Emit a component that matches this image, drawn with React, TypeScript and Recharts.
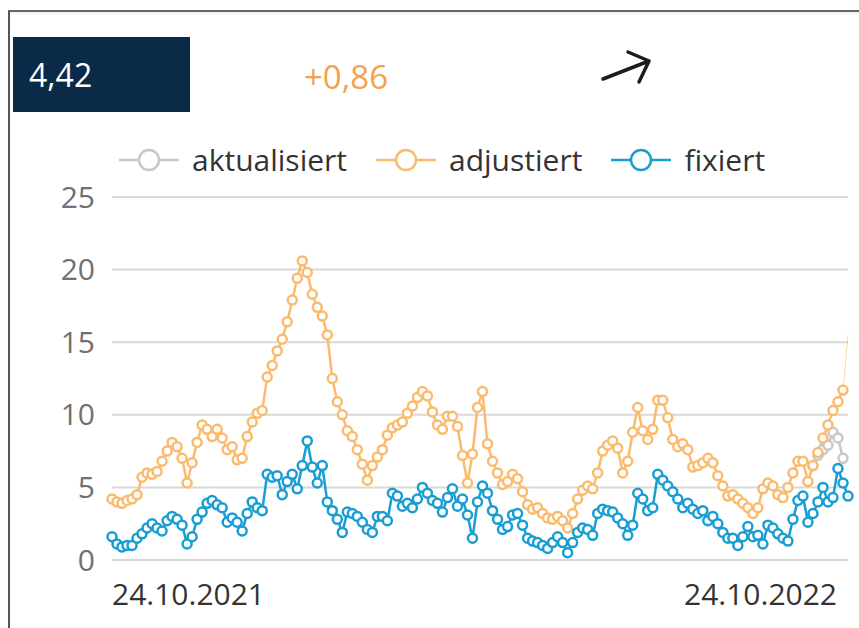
import React from 'react';
import { LineChart, Line, XAxis, YAxis, CartesianGrid } from 'recharts';

// values, one point every ~5px from 24.10.2021 to 24.10.2022
const adjustiert = [
  4.2, 4.0, 3.9, 4.1, 4.2, 4.5, 5.7, 6.0, 5.9, 6.1,
  6.8, 7.5, 8.1, 7.8, 7.0, 5.3, 6.7, 8.1, 9.3, 9.0,
  8.5, 9.0, 8.4, 7.6, 7.8, 6.9, 7.0, 8.5, 9.5, 10.1,
  10.3, 12.6, 13.4, 14.4, 15.2, 16.4, 17.9, 19.4, 20.6, 19.8,
  18.3, 17.4, 16.8, 15.5, 12.5, 10.9, 10.0, 8.9, 8.5, 7.6,
  6.6, 5.5, 6.5, 7.1, 7.6, 8.6, 9.1, 9.3, 9.5, 10.1,
  10.6, 11.2, 11.6, 11.3, 10.2, 9.3, 9.0, 9.9, 9.9, 9.2,
  7.2, 5.3, 7.3, 10.5, 11.6, 8.0, 6.8, 6.0, 5.2, 5.4,
  5.9, 5.6, 4.7, 3.8, 3.5, 3.6, 3.2, 2.9, 2.8, 3.0,
  2.7, 2.2, 3.2, 4.2, 4.8, 5.1, 4.9, 6.0, 7.5, 7.9,
  8.2, 7.7, 6.0, 6.8, 8.8, 10.5, 8.9, 8.3, 9.0, 11.0,
  11.0, 9.8, 8.3, 7.8, 8.0, 7.6, 6.4, 6.5, 6.7, 7.0,
  6.7, 5.8, 5.1, 4.4, 4.5, 4.2, 3.9, 3.6, 3.2, 3.6,
  4.9, 5.3, 5.1, 4.5, 4.3, 5.0, 6.0, 6.8, 6.8, 5.4,
  6.5, 7.4, 8.4, 9.3, 10.3, 10.9, 11.7,
];

const fixiert = [
  1.6, 1.1, 0.9, 1.0, 1.0, 1.5, 1.8, 2.2, 2.5, 2.2,
  2.0, 2.7, 3.0, 2.8, 2.4, 1.1, 1.6, 2.8, 3.3, 3.9,
  4.1, 3.8, 3.6, 2.6, 2.9, 2.6, 2.0, 3.2, 4.0, 3.6,
  3.4, 5.9, 5.7, 5.8, 4.5, 5.4, 5.9, 4.9, 6.5, 8.2,
  6.4, 5.3, 6.5, 4.0, 3.4, 2.8, 1.9, 3.3, 3.2, 3.0,
  2.6, 2.1, 1.9, 3.0, 3.0, 2.7, 4.6, 4.4, 3.7, 3.9,
  3.6, 4.2, 5.0, 4.6, 4.1, 3.9, 3.3, 4.3, 4.9, 3.7,
  4.2, 3.1, 1.5, 4.0, 5.1, 4.6, 3.4, 2.8, 2.1, 2.3,
  3.1, 3.2, 2.4, 1.5, 1.3, 1.2, 1.0, 0.8, 1.2, 1.6,
  1.2, 0.5, 1.2, 1.9, 2.2, 2.1, 1.7, 3.2, 3.5, 3.4,
  3.3, 2.9, 2.5, 1.7, 2.4, 4.6, 4.2, 3.4, 3.6, 5.9,
  5.5, 5.1, 4.7, 4.2, 3.6, 3.9, 3.5, 3.2, 3.4, 2.7,
  3.0, 2.5, 1.9, 1.5, 1.5, 1.0, 1.6, 2.3, 1.6, 1.7,
  1.1, 2.4, 2.2, 1.8, 1.5, 1.3, 2.8, 4.1, 4.4, 2.6,
  3.2, 4.0, 5.0, 4.0, 4.3, 6.3, 5.3, 4.4,
];

// "aktualisiert" only shows where it departs from "adjustiert", at the very end
const aktualisiertStart = 140;
const aktualisiert = [6.5, 7.2, 7.6, 7.9, 8.8, 8.4, 7.0];

// thin spike on the last adjustiert value
const spikeStart = 146;
const spike = [11.7, 15.5];

const xLabels = ['24.10.2021', '24.10.2022'];
const yTicks = [0, 5, 10, 15, 20, 25];

const currentValue = '4,42';
const change = '+0,86';

const COLORS = {
  aktualisiert: '#c8c8c8',
  adjustiert: '#fbbb6e',
  fixiert: '#1a9dd3',
};

const FONT = '"Open Sans", "Noto Sans", sans-serif';

const rows = fixiert.map((v, i) => ({
  idx: i,
  fixiert: v,
  adjustiert: i < adjustiert.length ? adjustiert[i] : null,
  aktualisiert:
    i >= aktualisiertStart && i - aktualisiertStart < aktualisiert.length
      ? aktualisiert[i - aktualisiertStart]
      : null,
  spike: i >= spikeStart && i - spikeStart < spike.length ? spike[i - spikeStart] : null,
}));

const lastIdx = rows.length - 1;

const DateTick = (props: any) => {
  const { x, y, payload } = props;
  const first = payload.value === 0;
  return (
    <text
      x={first ? x : x - 10}
      y={y}
      dy={37}
      textAnchor={first ? 'start' : 'end'}
      fill="#333"
      fontSize={30}
      fontFamily={FONT}
    >
      {first ? xLabels[0] : xLabels[1]}
    </text>
  );
};

const LegendItem: React.FC<{ color: string; label: string }> = ({ color, label }) => (
  <div style={{ display: 'flex', alignItems: 'center', marginRight: 28 }}>
    <svg width={62} height={26}>
      <line x1={1} y1={13} x2={61} y2={13} stroke={color} strokeWidth={2.5} />
      <circle cx={31} cy={13} r={10} fill="#fff" stroke={color} strokeWidth={2.5} />
    </svg>
    <span style={{ marginLeft: 12, color: '#333', fontSize: 30 }}>{label}</span>
  </div>
);

const App: React.FC = () => {
  const dot = (color: string) => ({ r: 4.5, fill: '#fff', stroke: color, strokeWidth: 2.5 });

  return (
    <div
      style={{
        position: 'absolute',
        left: 0,
        top: 0,
        width: 859,
        height: 628,
        background: '#fff',
        fontFamily: FONT,
        overflow: 'hidden',
      }}
    >
      {/* panel frame */}
      <div
        style={{
          position: 'absolute',
          left: 8,
          top: 10,
          width: 851,
          height: 618,
          borderTop: '2px solid #666',
          borderLeft: '2px solid #555',
          boxShadow: 'inset 0 2px 2px rgba(0,0,0,0.06)',
        }}
      />

      {/* header */}
      <div
        style={{
          position: 'absolute',
          left: 13,
          top: 37,
          width: 177,
          height: 75,
          background: '#0b2a47',
          color: '#fff',
          fontSize: 32,
          lineHeight: '75px',
          paddingLeft: 16,
          boxSizing: 'border-box',
        }}
      >
        {currentValue}
      </div>
      <div
        style={{
          position: 'absolute',
          left: 304,
          top: 39,
          height: 75,
          lineHeight: '75px',
          fontSize: 33,
          color: '#f5a04c',
        }}
      >
        {change}
      </div>
      <svg style={{ position: 'absolute', left: 598, top: 48 }} width={60} height={40}>
        <path
          d="M5 31 L51 13 M30 4 L51 13 L41 34"
          fill="none"
          stroke="#1c1c1c"
          strokeWidth={3.5}
          strokeLinecap="round"
          strokeLinejoin="round"
        />
      </svg>

      {/* legend */}
      <div style={{ position: 'absolute', left: 118, top: 139, display: 'flex', alignItems: 'center' }}>
        <LegendItem color={COLORS.aktualisiert} label="aktualisiert" />
        <LegendItem color={COLORS.adjustiert} label="adjustiert" />
        <LegendItem color={COLORS.fixiert} label="fixiert" />
      </div>

      <div style={{ position: 'absolute', left: 0, top: 0 }}>
        <LineChart
          width={859}
          height={628}
          data={rows}
          margin={{ top: 197, right: 11, bottom: 0, left: 8 }}
        >
          <CartesianGrid vertical={false} stroke="#d9d9d9" strokeWidth={2} />
          <XAxis
            dataKey="idx"
            type="number"
            domain={[0, lastIdx]}
            ticks={[0, lastIdx]}
            axisLine={false}
            tickLine={false}
            tick={<DateTick />}
            height={68}
          />
          <YAxis
            domain={[0, 25]}
            ticks={yTicks}
            axisLine={false}
            tickLine={false}
            tickMargin={11}
            width={104}
            tick={{ fill: '#707070', fontSize: 30, fontFamily: FONT }}
          />
          <Line
            dataKey="aktualisiert"
            stroke={COLORS.aktualisiert}
            strokeWidth={2.5}
            dot={dot(COLORS.aktualisiert)}
            activeDot={false}
            isAnimationActive={false}
          />
          <Line
            dataKey="spike"
            stroke={COLORS.adjustiert}
            strokeWidth={1}
            strokeOpacity={0.6}
            dot={false}
            activeDot={false}
            isAnimationActive={false}
          />
          <Line
            dataKey="adjustiert"
            stroke={COLORS.adjustiert}
            strokeWidth={2.5}
            dot={dot(COLORS.adjustiert)}
            activeDot={false}
            isAnimationActive={false}
          />
          <Line
            dataKey="fixiert"
            stroke={COLORS.fixiert}
            strokeWidth={2.5}
            dot={dot(COLORS.fixiert)}
            activeDot={false}
            isAnimationActive={false}
          />
        </LineChart>
      </div>
    </div>
  );
};

export default App;
